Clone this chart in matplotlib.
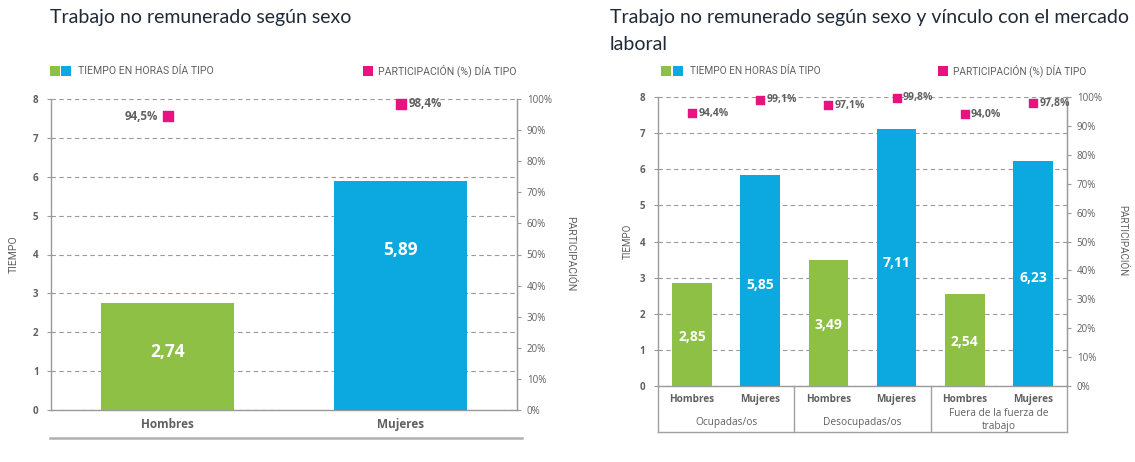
import matplotlib
matplotlib.use("Agg")
import matplotlib.pyplot as plt
from matplotlib.lines import Line2D
from matplotlib.patches import Rectangle

# --- datos ---
sexos = ["Hombres", "Mujeres"]
tiempo_sexo = [2.74, 5.89]
particip_sexo = [94.5, 98.4]

grupos = ["Ocupadas/os", "Desocupadas/os", "Fuera de la fuerza de\ntrabajo"]
sexos_grupo = ["Hombres", "Mujeres", "Hombres", "Mujeres", "Hombres", "Mujeres"]
tiempo_grupo = [2.85, 5.85, 3.49, 7.11, 2.54, 6.23]
particip_grupo = [94.4, 99.1, 97.1, 99.8, 94.0, 97.8]

y_ticks = list(range(0, 9))
pct_ticks = list(range(0, 101, 10))

VERDE = "#8DC044"
AZUL = "#0BA9E0"
ROSA = "#E8137F"
GRIS = "#606060"
GRID = "#9a9a9a"
TITULO = "#1f2937"

W, H = 1135, 462
plt.rcParams["font.family"] = ["Open Sans", "DejaVu Sans"]
fig = plt.figure(figsize=(W / 100, H / 100), dpi=100)


def fx(x):
    return x / W


def fy(y):
    return 1 - y / H


def caja(x0, y0, x1, y1):
    return [fx(x0), fy(y1), fx(x1) - fx(x0), fy(y0) - fy(y1)]


def linea(xs, ys, color="#a0a0a0", lw=1.0):
    fig.add_artist(Line2D([fx(x) for x in xs], [fy(y) for y in ys],
                          transform=fig.transFigure, color=color, lw=lw))


def cuadro(x, y, c, s=10):
    fig.add_artist(Rectangle((fx(x), fy(y + s / 2)), s / W, s / H,
                             transform=fig.transFigure, color=c, lw=0))


def preparar(ax):
    ax.set_ylim(0, 8)
    ax.set_yticks(y_ticks)
    ax.set_yticklabels([str(t) for t in y_ticks], fontsize=7,
                       color=GRIS, fontweight="bold")
    ax.tick_params(axis="y", length=3, width=0.8, color=GRID, pad=6)
    ax.yaxis.grid(True, ls=(0, (4, 3)), color=GRID, lw=0.8)
    ax.set_axisbelow(True)
    ax.spines["top"].set_visible(False)
    for s in ["left", "right", "bottom"]:
        ax.spines[s].set_color(GRID)
        ax.spines[s].set_linewidth(1.0)
    tw = ax.twinx()
    tw.set_ylim(0, 100)
    tw.set_yticks(pct_ticks)
    tw.set_yticklabels([f"{t}%" for t in pct_ticks], fontsize=7,
                       color=GRIS)
    tw.tick_params(axis="y", length=3, width=0.8, color=GRID, pad=4)
    tw.spines["top"].set_visible(False)
    tw.spines["right"].set_color(GRID)
    tw.spines["left"].set_visible(False)
    tw.spines["bottom"].set_visible(False)
    return tw


def fmt(v, dec=2):
    return f"{v:.{dec}f}".replace(".", ",")


LEG = ["Roboto", "DejaVu Sans"]
TIT = ["Lato", "DejaVu Sans"]

# ================= Gráfico 1 =================
fig.text(fx(50), fy(18), "Trabajo no remunerado según sexo", fontsize=14,
         color=TITULO, va="center", ha="left", family=TIT)

cuadro(50, 71, VERDE)
cuadro(61, 71, AZUL)
fig.text(fx(78), fy(71), "TIEMPO EN HORAS DÍA TIPO", fontsize=7.6, color=GRIS,
         va="center", family=LEG)
cuadro(363, 71, ROSA)
fig.text(fx(378), fy(71), "PARTICIPACIÓN (%) DÍA TIPO", fontsize=7.6,
         color=GRIS, va="center", family=LEG)

ax1 = fig.add_axes(caja(51, 99, 517, 410))
tw1 = preparar(ax1)
x1 = list(range(len(sexos)))
ax1.bar(x1, tiempo_sexo, width=0.575, color=[VERDE, AZUL], zorder=3)
ax1.set_xlim(-0.5, 1.5)
ax1.set_xticks(x1)
ax1.set_xticklabels(sexos, fontsize=8.5, color=GRIS, fontweight="bold")
ax1.tick_params(axis="x", length=0, pad=6)
pos_etq1 = [0.54, 0.70]
for xi, v, f in zip(x1, tiempo_sexo, pos_etq1):
    ax1.text(xi, v * f, fmt(v), ha="center", va="center", color="white",
             fontsize=12.5, fontweight="bold", zorder=4)
tw1.scatter(x1, particip_sexo, marker="s", s=45, color=ROSA, zorder=5,
            clip_on=False)
for i, (xi, p) in enumerate(zip(x1, particip_sexo)):
    if i == 0:
        tw1.annotate(fmt(p, 1) + "%", (xi, p), xytext=(-7, 0),
                     textcoords="offset points", ha="right", va="center",
                     fontsize=8.3, color=GRIS, fontweight="bold")
    else:
        tw1.annotate(fmt(p, 1) + "%", (xi, p), xytext=(6, 0),
                     textcoords="offset points", ha="left", va="center",
                     fontsize=8.3, color=GRIS, fontweight="bold")
fig.text(fx(14), fy(254), "TIEMPO", rotation=90, fontsize=7.5, color=GRIS,
         ha="center", va="center", family=LEG)
fig.text(fx(570), fy(254), "PARTICIPACIÓN", rotation=270, fontsize=7.5,
         color=GRIS, ha="center", va="center", family=LEG)
linea([50, 522], [438, 438], color="#b0b0b0", lw=1.8)

# ================= Gráfico 2 =================
fig.text(fx(610), fy(18), "Trabajo no remunerado según sexo y vínculo con el mercado",
         fontsize=14, color=TITULO, va="center", ha="left", family=TIT)
fig.text(fx(610), fy(44), "laboral", fontsize=14, color=TITULO,
         va="center", ha="left", family=TIT)

cuadro(661, 71, VERDE)
cuadro(673, 71, AZUL)
fig.text(fx(690), fy(71), "TIEMPO EN HORAS DÍA TIPO", fontsize=7.3, color=GRIS,
         va="center", family=LEG)
cuadro(938, 71, ROSA)
fig.text(fx(953), fy(71), "PARTICIPACIÓN (%) DÍA TIPO", fontsize=7.3,
         color=GRIS, va="center", family=LEG)

ax2 = fig.add_axes(caja(658, 97, 1067, 386))
tw2 = preparar(ax2)
x2 = list(range(len(sexos_grupo)))
colores2 = [VERDE if s == "Hombres" else AZUL for s in sexos_grupo]
ax2.bar(x2, tiempo_grupo, width=0.58, color=colores2, zorder=3)
ax2.set_xlim(-0.5, len(x2) - 0.5)
ax2.set_xticks(x2)
ax2.set_xticklabels(sexos_grupo, fontsize=7.2, color=GRIS, fontweight="bold")
ax2.tick_params(axis="x", length=0, pad=6)
for xi, v in zip(x2, tiempo_grupo):
    ax2.text(xi, v * 0.48, fmt(v), ha="center", va="center", color="white",
             fontsize=10, fontweight="bold", zorder=4)
tw2.scatter(x2, particip_grupo, marker="s", s=38, color=ROSA, zorder=5,
            clip_on=False)
for xi, p in zip(x2, particip_grupo):
    tw2.annotate(fmt(p, 1) + "%", (xi, p), xytext=(4.5, 0),
                 textcoords="offset points", ha="left", va="center",
                 fontsize=7.6, color=GRIS, fontweight="bold")

# cuadro de grupos bajo el eje
x_px = lambda d: 658 + (d + 0.5) * (1067 - 658) / len(x2)
for g in range(len(grupos) + 1):
    xs = x_px(2 * g - 0.5)
    linea([xs, xs], [386, 432])
linea([658, 1067], [432, 432])
for g, nombre in enumerate(grupos):
    yc = 422 if "\n" not in nombre else 420
    fig.text(fx(x_px(2 * g + 0.5)), fy(yc), nombre, ha="center", va="center",
             fontsize=7.3, color=GRIS, linespacing=1.2)

fig.text(fx(628), fy(241), "TIEMPO", rotation=90, fontsize=7, color=GRIS,
         ha="center", va="center", family=LEG)
fig.text(fx(1122), fy(241), "PARTICIPACIÓN", rotation=270, fontsize=7,
         color=GRIS, ha="center", va="center", family=LEG)

fig.savefig("out.png", dpi=100, facecolor="white")
